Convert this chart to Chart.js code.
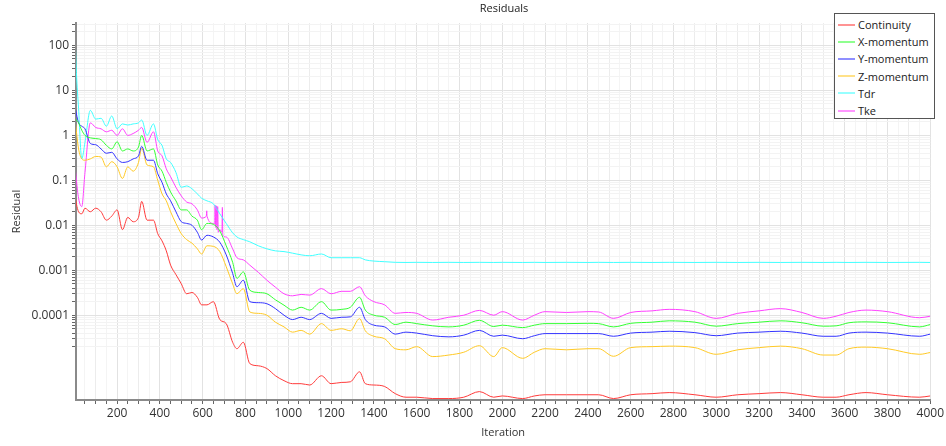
<!DOCTYPE html>
<html>
<head>
<meta charset="utf-8">
<title>Residuals</title>
<script src="https://cdn.jsdelivr.net/npm/chart.js@4.4.0/dist/chart.umd.min.js"></script>
<style>
  body { margin: 0; background: #fff; font-family: "Open Sans", sans-serif; }
  #wrap { position: relative; width: 946px; height: 446px; }
  #title { position: absolute; left: 76px; width: 856px; top: 0; text-align: center; font-size: 11px; line-height: 15px; color: #222; }
  #legend { position: absolute; left: 834px; top: 13px; width: 101px; height: 106px; padding-top: 2px; box-sizing: border-box;
            border: 1px solid #555; background: #fff; font-size: 11px; color: #222; }
  .row { height: 17.2px; display: flex; align-items: center; white-space: nowrap; }
  .swatch { width: 17px; height: 2px; margin: 0 3px 0 3px; opacity: .55; }
</style>
</head>
<body>
<div id="wrap">
  <canvas id="chart" width="946" height="446"></canvas>
  <div id="title">Residuals</div>
  <div id="legend"></div>
</div>
<script>
const iterations = [1, 10, 20, 35, 50, 75, 100, 125, 150, 175,
  200, 225, 250, 275, 300, 315, 340, 370, 390, 410,
  430, 450, 475, 500, 525, 550, 575, 595, 620, 650,
  680, 710, 740, 760, 790, 820, 860, 900, 940, 980,
  1020, 1060, 1100, 1155, 1200, 1250, 1290, 1333, 1360, 1400,
  1450, 1500, 1550, 1600, 1675, 1750, 1820, 1893, 1960, 2000,
  2095, 2150, 2200, 2300, 2400, 2450, 2520, 2600, 2700, 2780,
  2900, 3000, 3100, 3200, 3300, 3400, 3500, 3560, 3620, 3700,
  3800, 3950, 4000];

const continuity = [0.06, 0.03, 0.02, 0.018, 0.024, 0.02, 0.024, 0.02, 0.013, 0.016,
  0.022, 0.008, 0.015, 0.012, 0.015, 0.034, 0.013, 0.013, 0.0065, 0.0045,
  0.0027, 0.0013, 0.0008, 0.0005, 0.0003, 0.00032, 0.00025, 0.00017, 0.00017, 0.0002,
  0.00008, 0.000065, 0.000025, 0.000018, 0.000025, 8.4e-6, 7.5e-6, 6.5e-6, 4.5e-6, 3.5e-6,
  3.0e-6, 3.0e-6, 2.8e-6, 4.5e-6, 3.0e-6, 3.2e-6, 3.3e-6, 5.5e-6, 3.0e-6, 2.8e-6,
  2.6e-6, 1.8e-6, 1.5e-6, 1.5e-6, 1.4e-6, 1.4e-6, 1.5e-6, 2.0e-6, 1.5e-6, 1.6e-6,
  1.4e-6, 1.6e-6, 1.7e-6, 1.7e-6, 1.7e-6, 1.7e-6, 1.4e-6, 1.7e-6, 1.8e-6, 1.9e-6,
  1.7e-6, 1.5e-6, 1.7e-6, 1.8e-6, 1.9e-6, 1.7e-6, 1.5e-6, 1.5e-6, 1.7e-6, 1.9e-6,
  1.7e-6, 1.5e-6, 1.6e-6];

const xMomentum = [2.6, 2.2, 1.9, 1.3, 1.0, 0.88, 0.85, 0.8, 0.6, 0.5,
  0.72, 0.45, 0.5, 0.45, 0.55, 1.0, 0.45, 0.5, 0.22, 0.16,
  0.09, 0.055, 0.035, 0.022, 0.022, 0.016, 0.013, 0.008, 0.011, 0.0105,
  0.0075, 0.0035, 0.0015, 0.00066, 0.00092, 0.00036, 0.00032, 0.0003, 0.00022, 0.000167,
  0.00013, 0.00015, 0.00013, 0.0002, 0.00013, 0.000135, 0.00015, 0.00025, 0.00013, 0.0001,
  0.00009, 0.000062, 0.00007, 0.000065, 0.000058, 0.000055, 0.00006, 0.000077, 0.000056, 0.00006,
  0.000053, 0.00006, 0.000065, 0.000065, 0.000066, 0.000065, 0.000055, 0.000066, 0.00007, 0.000075,
  0.00007, 0.000057, 0.000065, 0.00007, 0.000075, 0.000068, 0.000057, 0.000058, 0.000068, 0.000071,
  0.000068, 0.000055, 0.000062];

const yMomentum = [5.2, 3.0, 1.9, 1.6, 1.4, 0.66, 0.62, 0.5, 0.4, 0.42,
  0.3, 0.25, 0.26, 0.3, 0.35, 0.57, 0.28, 0.28, 0.14, 0.09,
  0.05, 0.035, 0.02, 0.012, 0.011, 0.01, 0.007, 0.0047, 0.006, 0.0055,
  0.0042, 0.0022, 0.00085, 0.00043, 0.0006, 0.0002, 0.00019, 0.00018, 0.00014, 0.0001,
  0.00008, 0.00009, 0.00008, 0.00011, 0.000085, 0.00009, 0.000092, 0.00015, 0.00008, 0.00006,
  0.000055, 0.000038, 0.000042, 0.00004, 0.000035, 0.000033, 0.000036, 0.000046, 0.000034, 0.000036,
  0.00003, 0.000035, 0.000039, 0.000039, 0.000039, 0.000039, 0.000034, 0.00004, 0.000042, 0.000044,
  0.000041, 0.000035, 0.00004, 0.000042, 0.000044, 0.00004, 0.000034, 0.000034, 0.00004, 0.000042,
  0.00004, 0.000034, 0.000038];

const zMomentum = [3.0, 1.2, 0.5, 0.3, 0.28, 0.3, 0.34, 0.33, 0.2, 0.26,
  0.2, 0.11, 0.2, 0.16, 0.25, 0.52, 0.22, 0.2, 0.1, 0.05,
  0.035, 0.02, 0.011, 0.0065, 0.0048, 0.004, 0.003, 0.0023, 0.0035, 0.0034,
  0.0026, 0.0012, 0.0005, 0.0003, 0.00039, 0.000118, 0.00011, 0.0001, 0.00007, 0.000055,
  0.000042, 0.000046, 0.000038, 0.000065, 0.000046, 0.00005, 0.000045, 0.000084, 0.000045, 0.000034,
  0.00003, 0.000018, 0.000017, 0.00002, 0.000012, 0.000013, 0.000015, 0.000021, 0.000012, 0.000019,
  0.000011, 0.000015, 0.000018, 0.000017, 0.000018, 0.000018, 0.0000122, 0.000019, 0.00002, 0.0000205,
  0.000019, 0.0000135, 0.000017, 0.000019, 0.0000205, 0.000018, 0.000013, 0.000013, 0.000018, 0.0000195,
  0.000018, 0.0000135, 0.0000148];

const tdr = [400, 25, 4, 0.3, 0.7, 3.6, 2.3, 2.4, 1.6, 2.7,
  1.4, 1.8, 1.7, 1.8, 1.9, 2.2, 1.0, 1.8, 0.8, 0.6,
  0.3, 0.25, 0.15, 0.07, 0.075, 0.065, 0.05, 0.04, 0.035, 0.03,
  0.018, 0.011, 0.0068, 0.0055, 0.0048, 0.0043, 0.0035, 0.003, 0.0027, 0.0026,
  0.0024, 0.0022, 0.0021, 0.0023, 0.0019, 0.0019, 0.0019, 0.0019, 0.0017, 0.0016,
  0.00155, 0.0015, 0.00149, 0.0015, 0.00149, 0.0015, 0.00149, 0.0015, 0.00149, 0.0015,
  0.00149, 0.0015, 0.00149, 0.0015, 0.00149, 0.0015, 0.00149, 0.0015, 0.00149, 0.0015,
  0.00149, 0.0015, 0.00149, 0.0015, 0.00149, 0.0015, 0.00149, 0.0015, 0.00149, 0.0015,
  0.00149, 0.0015, 0.00149];

const tke = [0.28, 0.1, 0.04, 0.026, 0.15, 1.9, 1.5, 1.4, 1.2, 1.3,
  1.0, 1.4, 1.0, 1.1, 1.3, 1.5, 0.7, 1.2, 0.45, 0.35,
  0.18, 0.12, 0.07, 0.045, 0.033, 0.03, 0.022, 0.0145, 0.016, 0.011,
  0.008, 0.0055, 0.003, 0.0019, 0.0017, 0.0013, 0.0009, 0.0006, 0.00042, 0.0003,
  0.00027, 0.00029, 0.00028, 0.00039, 0.0003, 0.00034, 0.00034, 0.00043, 0.00027, 0.0002,
  0.00017, 0.00011, 0.000115, 0.00011, 0.000078, 0.00009, 0.0001, 0.000128, 0.0001, 0.00012,
  0.000078, 0.0001, 0.00012, 0.000115, 0.00012, 0.000118, 0.000085, 0.000115, 0.000125, 0.000135,
  0.00012, 0.000085, 0.00011, 0.000125, 0.00014, 0.000115, 0.000085, 0.000095, 0.000115, 0.00013,
  0.00012, 0.000088, 0.000095];

// the short spikes in Tke around iteration 620-700
const tkeSpikeIters = [617, 619, 656, 658, 661, 664, 667, 670, 673, 690, 692, 694];
const tkeSpikeValues = [0.016, 0.021, 0.011, 0.028, 0.009, 0.027, 0.008, 0.026, 0.007, 0.007, 0.025, 0.006];

const seriesNames = ["Continuity", "X-momentum", "Y-momentum", "Z-momentum", "Tdr", "Tke"];
const seriesColors = ["#ff3b3b", "#33ff33", "#3333ff", "#ffc926", "#40ffff", "#ff40ff"];

const yMajorTicks = [0.0001, 0.001, 0.01, 0.1, 1, 10, 100];
const yTickLabels = ["0.0001", "0.001", "0.01", "0.1", "1", "10", "100"];

function toPoints(xs, ys) {
  return xs.map((x, i) => ({ x: x, y: ys[i] }));
}

const tkePoints = toPoints(iterations, tke)
  .concat(toPoints(tkeSpikeIters, tkeSpikeValues))
  .sort((a, b) => a.x - b.x);

const seriesPoints = [
  toPoints(iterations, continuity),
  toPoints(iterations, xMomentum),
  toPoints(iterations, yMomentum),
  toPoints(iterations, zMomentum),
  toPoints(iterations, tdr),
  tkePoints
];

const datasets = seriesNames.map((name, i) => ({
  label: name,
  data: seriesPoints[i],
  borderColor: seriesColors[i],
  backgroundColor: seriesColors[i],
  borderWidth: 1,
  pointRadius: 0,
  fill: false,
  cubicInterpolationMode: 'monotone'
}));

function isMajor(v) {
  return yMajorTicks.some(m => Math.abs(Math.log10(v) - Math.log10(m)) < 1e-6);
}

new Chart(document.getElementById("chart"), {
  type: "line",
  data: { datasets: datasets },
  options: {
    responsive: false,
    animation: false,
    layout: { padding: { top: 23, right: 14, left: 0, bottom: 0 } },
    plugins: {
      legend: { display: false },
      title: { display: false },
      tooltip: { enabled: false }
    },
    scales: {
      x: {
        type: "linear",
        min: 8,
        max: 4000,
        afterBuildTicks: scale => {
          const t = [];
          for (let v = 50; v <= 4000; v += 50) t.push({ value: v });
          scale.ticks = t;
        },
        afterFit: scale => { scale.height = 46; },
        ticks: {
          autoSkip: false,
          maxRotation: 0,
          padding: 2,
          color: "#333",
          font: { family: "Open Sans", size: 12 },
          callback: v => (v % 200 === 0 ? String(v) : "")
        },
        grid: {
          color: ctx => {
            const v = ctx.tick ? ctx.tick.value : 0;
            if (v % 200 === 0) return "#e2e2e2";
            if (v % 100 === 0) return "#ececec";
            return "#f4f4f4";
          },
          tickColor: "#666",
          tickLength: 4
        },
        border: { color: "#8a8a8a", width: 2 },
        title: {
          display: true,
          text: "Iteration",
          color: "#333",
          font: { family: "Open Sans", size: 11 },
          padding: { top: 4, bottom: 7 }
        }
      },
      y: {
        type: "logarithmic",
        min: 1.3e-6,
        max: 316,
        afterBuildTicks: scale => {
          const t = [];
          for (let e = -5; e <= 2; e++) {
            for (let m = 1; m <= 9; m++) {
              const v = m * Math.pow(10, e);
              if (e === -5 && m === 1) continue;
              if (v > 316) continue;
              t.push({ value: v });
            }
          }
          scale.ticks = t;
        },
        afterFit: scale => { scale.width = 76; },
        ticks: {
          autoSkip: false,
          padding: 3,
          color: "#333",
          font: { family: "Open Sans", size: 12 },
          callback: v => {
            const k = yMajorTicks.findIndex(m => Math.abs(Math.log10(v) - Math.log10(m)) < 1e-6);
            return k >= 0 ? yTickLabels[k] : "";
          }
        },
        grid: {
          color: ctx => (ctx.tick && isMajor(ctx.tick.value) ? "#e2e2e2" : "#f3f3f3"),
          tickColor: "#666",
          tickLength: 4
        },
        border: { color: "#8a8a8a", width: 2 },
        title: {
          display: true,
          text: "Residual",
          color: "#333",
          font: { family: "Open Sans", size: 11 },
          padding: { top: 10, bottom: 0 }
        }
      }
    }
  }
});

// legend box drawn as HTML
const legend = document.getElementById("legend");
seriesNames.forEach((name, i) => {
  const row = document.createElement("div");
  row.className = "row";
  row.innerHTML = `<span class="swatch" style="background:${seriesColors[i]}"></span>${name}`;
  legend.appendChild(row);
});
</script>
</body>
</html>
